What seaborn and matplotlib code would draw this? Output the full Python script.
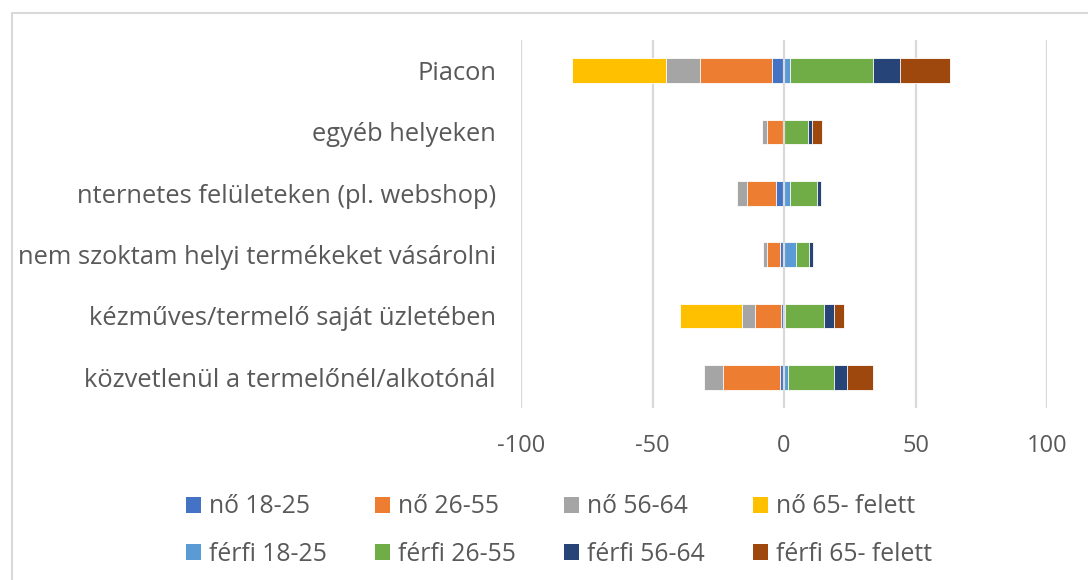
import matplotlib
matplotlib.use("Agg")
import matplotlib.pyplot as plt
from matplotlib.patches import Patch, Rectangle
import seaborn as sns
import pandas as pd
import numpy as np

categories = [
    "Piacon",
    "egyéb helyeken",
    "nternetes felületeken (pl. webshop)",
    "nem szoktam helyi termékeket vásárolni",
    "kézműves/termelő saját üzletében",
    "közvetlenül a termelőnél/alkotónál",
]

# women (plotted to the left)
no_18_25 = [4.4, 0.0, 3.2, 1.5, 1.1, 1.6]
no_26_55 = [27.4, 6.6, 10.7, 4.9, 10.1, 21.7]
no_56_64 = [13.0, 1.8, 4.0, 1.7, 4.8, 7.2]
no_65 = [35.7, 0.0, 0.0, 0.0, 23.6, 0.0]
# men (plotted to the right)
ferfi_18_25 = [2.2, 0.0, 2.3, 4.7, 0.5, 1.6]
ferfi_26_55 = [31.7, 9.1, 10.4, 4.8, 14.7, 17.4]
ferfi_56_64 = [10.2, 1.7, 1.5, 1.7, 3.9, 5.1]
ferfi_65 = [19.0, 3.8, 0.0, 0.0, 3.9, 9.7]

women_labels = ["nő 18-25", "nő 26-55", "nő 56-64", "nő 65- felett"]
men_labels = ["férfi 18-25", "férfi 26-55", "férfi 56-64", "férfi 65- felett"]
women_colors = ["#4472C4", "#ED7D31", "#A5A5A5", "#FFC000"]
men_colors = ["#5B9BD5", "#70AD47", "#264478", "#9E480E"]

xticks = [-100, -50, 0, 50, 100]

sns.set_theme(style="white")
plt.rcParams["font.family"] = ["Open Sans", "DejaVu Sans"]
TXT = "#595959"
FS = 17
FS_Y = 18.4
FS_LEG = 17.8

fig = plt.figure(figsize=(10.88, 5.8), dpi=100)
ax = fig.add_axes([521 / 1088, 1 - 408 / 580, (1047 - 521) / 1088, (408 - 40) / 580])

women = [no_18_25, no_26_55, no_56_64, no_65]
men = [ferfi_18_25, ferfi_26_55, ferfi_56_64, ferfi_65]

def draw_side(series, colors, sign):
    arr = np.array(series, dtype=float)
    cums = np.cumsum(arr, axis=0) * sign
    for k in range(len(series) - 1, -1, -1):
        df = pd.DataFrame({"cat": categories, "val": cums[k]})
        sns.barplot(data=df, x="val", y="cat", orient="h", color=colors[k],
                    saturation=1, width=0.4, errorbar=None, ax=ax,
                    edgecolor="white", linewidth=0.6, zorder=2)

draw_side(women, women_colors, -1)
draw_side(men, men_colors, 1)

ax.set_xlim(-100, 100)
ax.set_ylim(5.5, -0.5)
ax.set_xticks(xticks)
ax.set_xticklabels([str(t) for t in xticks])
ax.set_xlabel("")
ax.set_ylabel("")
for t in xticks:
    ax.axvline(t, color="#D9D9D9", lw=1.6, zorder=3 if t == 0 else 0)
for s in ax.spines.values():
    s.set_visible(False)
ax.tick_params(axis="y", length=0, pad=18, labelsize=FS_Y, labelcolor=TXT)
ax.tick_params(axis="x", length=0, pad=19, labelsize=FS, labelcolor=TXT)

# legend: four equally spaced columns (nő on the first row, férfi on the second)
col_x = [186, 375, 564, 753]
for i in range(4):
    handles = [Patch(facecolor=women_colors[i], edgecolor="none"),
               Patch(facecolor=men_colors[i], edgecolor="none")]
    labels = [women_labels[i], men_labels[i]]
    leg = fig.legend(handles, labels, ncol=1, loc="center left",
                     bbox_to_anchor=(col_x[i] / 1088, 1 - 530.5 / 580),
                     frameon=False, fontsize=FS_LEG, handlelength=0.62, handleheight=0.62,
                     handletextpad=0.33, labelspacing=0.9, borderpad=0,
                     borderaxespad=0)
    for t in leg.get_texts():
        t.set_color(TXT)

fig.patches.append(Rectangle((12 / 1088, -0.1), 1.2, 1 - 13 / 580 + 0.1,
                             transform=fig.transFigure, fill=False,
                             edgecolor="#D9D9D9", lw=1.5))

fig.savefig("out.png", dpi=100)
